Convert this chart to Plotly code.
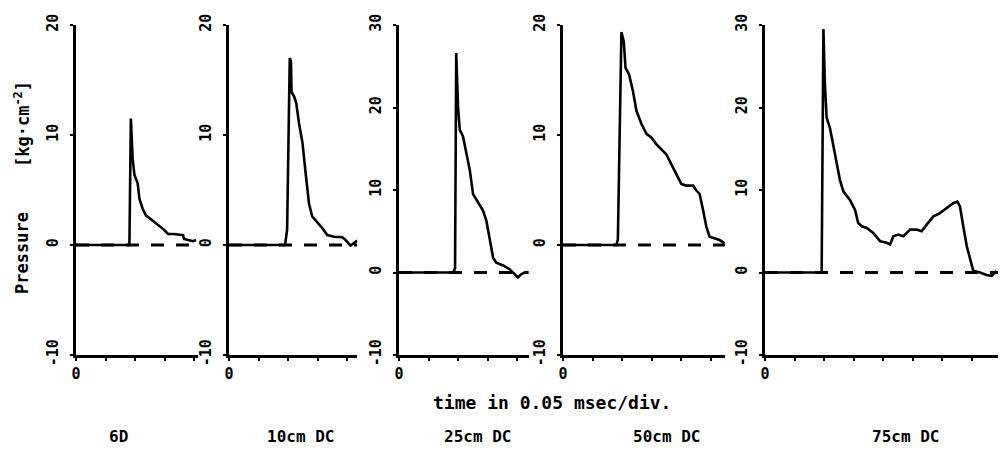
import plotly.graph_objects as go

# ---------------- data (time in divisions of 0.05 msec, pressure in kg/cm^2) ----------------
labels = ["6D", "10cm DC", "25cm DC", "50cm DC", "75cm DC"]

t1 = [0, 1.81, 1.86, 1.92, 1.98, 2.09, 2.15, 2.26, 2.37, 2.65, 2.81, 2.98, 3.12, 3.32, 3.63, 3.66, 3.80, 3.97, 4.07]
p1 = [0, 0, 11.5, 7.85, 6.4, 5.6, 4.2, 3.3, 2.7, 2.1, 1.8, 1.4, 1.0, 1.0, 0.9, 0.55, 0.45, 0.35, 0.45]

t2 = [0, 1.90, 1.97, 2.06, 2.10, 2.12, 2.21, 2.28, 2.37, 2.49, 2.60, 2.71, 2.82, 2.99, 3.16, 3.33, 3.56, 3.84, 3.95, 4.12, 4.24, 4.35]
p2 = [0, 0, 1.4, 17.0, 16.7, 13.9, 13.5, 12.9, 11.1, 9.3, 6.5, 3.8, 2.6, 2.1, 1.55, 0.9, 0.75, 0.7, 0.45, -0.05, 0.2, 0.4]

t3 = [0, 1.83, 1.90, 1.94, 2.0, 2.06, 2.17, 2.28, 2.40, 2.51, 2.68, 2.85, 2.96, 3.07, 3.19, 3.30, 3.53, 3.75, 3.92, 4.03, 4.15, 4.26, 4.37]
p3 = [0, 0, 0.5, 26.6, 20.1, 17.3, 16.5, 14.4, 12.4, 9.5, 8.5, 7.5, 6.3, 4.3, 1.8, 1.2, 0.85, 0.4, -0.2, -0.6, -0.2, 0, 0]

t4 = [0, 1.81, 1.86, 1.98, 2.06, 2.12, 2.24, 2.37, 2.49, 2.66, 2.83, 3.0, 3.17, 3.50, 3.67, 3.84, 4.01, 4.18, 4.41, 4.52, 4.63, 4.75, 4.86, 4.97, 5.14, 5.31, 5.48]
p4 = [0, 0, 0.5, 19.35, 18.5, 16.1, 15.5, 14.0, 12.2, 11.0, 10.1, 9.75, 9.15, 8.25, 7.35, 6.45, 5.55, 5.4, 5.4, 4.95, 4.65, 3.15, 1.65, 0.75, 0.6, 0.45, 0.15]

t5 = [0, 1.92, 1.98, 2.03, 2.09, 2.20, 2.37, 2.54, 2.66, 2.88, 3.05, 3.16, 3.28, 3.45, 3.67, 3.90, 4.12, 4.24, 4.35, 4.52,
      4.69, 4.92, 5.14, 5.31, 5.48, 5.71, 5.93, 6.16, 6.38, 6.52, 6.61, 6.72, 6.84, 7.06, 7.29, 7.51, 7.68, 7.80, 7.85]
p5 = [0, 0, 29.5, 22.8, 18.75, 17.55, 14.4, 11.2, 9.8, 8.8, 7.6, 6.0, 5.6, 5.4, 4.8, 3.8, 3.6, 3.4, 4.4, 4.6,
      4.4, 5.2, 5.2, 5.0, 5.8, 6.8, 7.2, 7.8, 8.4, 8.6, 8.0, 5.6, 3.2, 0.2, 0, -0.3, -0.4, 0, 0.2]

x_max = [4.13, 4.35, 4.4, 5.5, 7.9]          # axis length in divisions
y_max = [20, 20, 30, 20, 30]
y_min = -10
xtick_label = "0"
x_title = "time in 0.05 msec/div."

times = [t1, t2, t3, t4, t5]
press = [p1, p2, p3, p4, p5]

# ---------------- layout constants ----------------
OFF = 8                      # default page body margin
W, H = 1007 - 2 * OFF, 453 - 2 * OFF
axis_x0 = [76, 229, 399, 563, 765]   # screen pixel position of each y axis
div_px = 29.5
top_px, bot_px = 25, 355
FONT = "DejaVu Sans Mono"


def px(x):
    return (x - OFF) / W


def py(y):
    return 1 - (y - OFF) / H


fig = go.Figure()
layout = dict(width=W, height=H, margin=dict(l=0, r=0, t=0, b=0, autoexpand=False),
              paper_bgcolor="white", plot_bgcolor="white", showlegend=False,
              font=dict(family=FONT, color="black", size=15, weight="bold"))

ydom = [py(bot_px), py(top_px)]
for i in range(5):
    k = "" if i == 0 else str(i + 1)
    xa, ya = "x" + k, "y" + k
    x0 = axis_x0[i]
    x1 = x0 + x_max[i] * div_px
    layout["xaxis" + k] = dict(
        domain=[px(x0), min(px(x1), 1.0)], range=[0, x_max[i]], anchor=ya, automargin=False,
        showline=True, linecolor="black", linewidth=3, showgrid=False, zeroline=False,
        ticks="outside", ticklen=3, tickwidth=2, tickcolor="black",
        tickvals=[0], ticktext=[xtick_label],
        minor=dict(ticks="outside", ticklen=3, tickwidth=2, tickcolor="black",
                   tick0=0, dtick=1, showgrid=False),
        tickfont=dict(size=15, family=FONT, weight="bold"), fixedrange=True)
    yt = list(range(y_min, y_max[i] + 1, 10))
    layout["yaxis" + k] = dict(
        domain=ydom, range=[y_min, y_max[i]], anchor=xa, automargin=False,
        showline=True, linecolor="black", linewidth=3, showgrid=False, zeroline=False,
        ticks="outside", ticklen=3, tickwidth=2, tickcolor="black",
        tickvals=yt, ticktext=[str(v) for v in yt], tickangle=-90,
        ticklabelstandoff=6,
        tickfont=dict(size=15, family=FONT, weight="bold"), fixedrange=True)

    # zero reference (dashed)
    fig.add_trace(go.Scatter(x=[0, x_max[i]], y=[0, 0], mode="lines", xaxis=xa, yaxis=ya,
                             line=dict(color="black", width=3, dash="13px,12px"), hoverinfo="skip"))
    # pressure trace
    fig.add_trace(go.Scatter(x=times[i], y=press[i], mode="lines", xaxis=xa, yaxis=ya,
                             line=dict(color="black", width=2.6), name=labels[i]))

label_x = [118, 300, 477, 666, 905]
for i in range(5):
    fig.add_annotation(x=px(label_x[i]), y=py(436), xref="paper", yref="paper",
                       text=labels[i], showarrow=False, xanchor="center", yanchor="middle",
                       font=dict(size=16, family=FONT, weight="bold"))

fig.add_annotation(x=px(552), y=py(402), xref="paper", yref="paper", text=x_title,
                   showarrow=False, xanchor="center", yanchor="middle",
                   font=dict(size=18, family=FONT, weight="bold"))
fig.add_annotation(x=px(22), y=py(253), xref="paper", yref="paper", text="Pressure",
                   textangle=-90, showarrow=False, xanchor="center", yanchor="middle",
                   font=dict(size=17, family=FONT, weight="bold"))
fig.add_annotation(x=px(22), y=py(124), xref="paper", yref="paper",
                   text="[kg·cm<sup>-2</sup>]",
                   textangle=-90, showarrow=False, xanchor="center", yanchor="middle",
                   font=dict(size=17, family=FONT, weight="bold"))

fig.update_layout(**layout)
fig.write_html("out.html")
